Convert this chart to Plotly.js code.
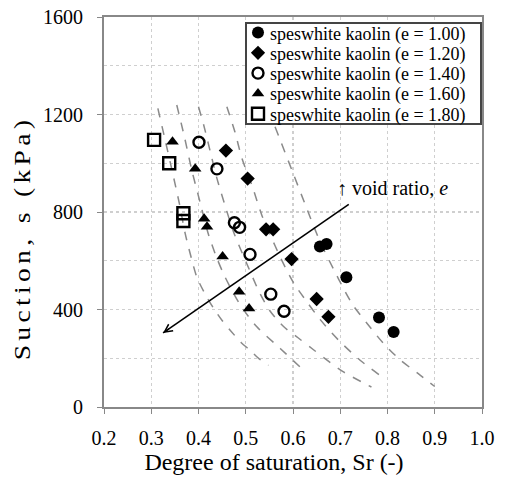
<!DOCTYPE html>
<html>
<head>
<meta charset="utf-8">
<script src="https://cdn.plot.ly/plotly-3.0.1.min.js"></script>
<style>
  html, body { margin: 0; padding: 0; background: #fff; }
  #chart { width: 506px; height: 481px; }
</style>
</head>
<body>
<div id="chart"></div>
<script>
// ---- data ----
const seriesNames = [
  "speswhite kaolin (e = 1.00)",
  "speswhite kaolin (e = 1.20)",
  "speswhite kaolin (e = 1.40)",
  "speswhite kaolin (e = 1.60)",
  "speswhite kaolin (e = 1.80)"
];
const sr100 = [0.657, 0.671, 0.713, 0.782, 0.813];
const s100  = [658, 669, 532, 367, 308];
const sr120 = [0.458, 0.504, 0.543, 0.558, 0.597, 0.650, 0.675];
const s120  = [1052, 937, 729, 729, 607, 443, 370];
const sr140 = [0.401, 0.439, 0.476, 0.487, 0.509, 0.553, 0.581];
const s140  = [1086, 977, 756, 737, 626, 463, 393];
const sr160 = [0.345, 0.393, 0.412, 0.418, 0.451, 0.486, 0.507];
const s160  = [1088, 977, 772, 740, 617, 473, 404];
const sr180 = [0.306, 0.338, 0.368, 0.368];
const s180  = [1096, 1000, 795, 763];

// dashed model curves
const curve1Sr = [0.314,0.330,0.347,0.360,0.372,0.385,0.397,0.415,0.432,0.450,0.467,0.490,0.509,0.530,0.548];
const curve1S  = [1225,1090,945,830,710,610,530,460,405,355,315,265,233,195,171];
const curve2Sr = [0.354,0.370,0.386,0.404,0.420,0.438,0.456,0.488,0.523,0.573,0.615];
const curve2S  = [1239,1110,970,835,715,615,534,420,330,240,164];
const curve3Sr = [0.400,0.411,0.425,0.439,0.456,0.474,0.502,0.530,0.551,0.580,0.610,0.640,0.670,0.706,0.766];
const curve3S  = [1232,1157,1047,938,828,719,589,466,395,330,285,240,195,145,82];
const curve4Sr = [0.460,0.477,0.492,0.513,0.534,0.551,0.573,0.601,0.630,0.657,0.696,0.742,0.784];
const curve4S  = [1232,1129,1020,910,787,710,615,510,430,360,275,192,130];
const curve5Sr = [0.562,0.600,0.630,0.658,0.686,0.710,0.728,0.756,0.791,0.827,0.869,0.900];
const curve5S  = [1150,960,810,675,565,475,415,345,262,193,131,84];

// arrow "void ratio" (tail, head)
const arrowSr = [0.718, 0.325];
const arrowS  = [831, 304];
const arrowLabel = "↑ void ratio, <i>e</i>";
const arrowLabelPos = [0.811, 898];

const xTickVals = [0.2,0.3,0.4,0.5,0.6,0.7,0.8,0.9,1.0];
const yTickVals = [0,400,800,1200,1600];
const xTitle = "Degree of saturation, Sr (-)";
const yTitle = "Suction, s (kPa)";

// ---- build ----
const FONT = "Liberation Serif, Times New Roman, serif";
const curveStyle = {color: "#8a8a8a", width: 1.5, dash: "dash", shape: "spline", smoothing: 0.8};
const curves = [[curve1Sr,curve1S],[curve2Sr,curve2S],[curve3Sr,curve3S],[curve4Sr,curve4S],[curve5Sr,curve5S]];
const traces = curves.map(c => ({
  x: c[0], y: c[1], mode: "lines", line: curveStyle, showlegend: false, hoverinfo: "skip"
}));

const markerDefs = [
  {symbol: "circle", size: 12, color: "#000"},
  {symbol: "diamond", size: 11, color: "#000"},
  {symbol: "circle-open", size: 11, color: "#000", line: {width: 2.4, color: "#000"}},
  {symbol: "triangle-up", size: 11, color: "#000"},
  {symbol: "square-open", size: 12, color: "#000", line: {width: 2.4, color: "#000"}}
];
const pts = [[sr100,s100],[sr120,s120],[sr140,s140],[sr160,s160],[sr180,s180]];
pts.forEach((p, i) => {
  const m = Object.assign({}, markerDefs[i]);
  if (!m.line) m.line = {width: 0};
  traces.push({x: p[0], y: p[1], mode: "markers", name: seriesNames[i], marker: m});
});

// arrow shaft
traces.push({x: arrowSr, y: arrowS, mode: "lines", line: {color: "#000", width: 1.6}, showlegend: false, hoverinfo: "skip"});

const layout = {
  width: 506, height: 481,
  margin: {l: 104, r: 24, t: 17, b: 74},
  paper_bgcolor: "#fff", plot_bgcolor: "#fff",
  font: {family: FONT, color: "#000", size: 20},
  showlegend: true,
  legend: {
    x: 0.373, y: 0.99, xanchor: "left", yanchor: "top",
    bgcolor: "#fff", bordercolor: "#444", borderwidth: 1.5,
    font: {family: FONT, size: 18, color: "#000"},
    itemwidth: 30, tracegroupgap: 0
  },
  xaxis: {
    range: [0.2, 1.0], tickvals: xTickVals, tickformat: ".1f",
    ticks: "outside", ticklen: 5, tickcolor: "#888", ticklabelstandoff: 7,
    showline: true, linecolor: "#888", linewidth: 2, mirror: true,
    showgrid: true, gridcolor: "#cfcfcf", griddash: "dot", gridwidth: 1.2,
    zeroline: false,
    tickfont: {family: FONT, size: 20},
    title: {text: xTitle, font: {family: FONT, size: 24}, standoff: 4}
  },
  yaxis: {
    range: [0, 1600], tickvals: yTickVals,
    ticks: "outside", ticklen: 5, tickcolor: "#888", ticklabelstandoff: 10,
    showline: true, linecolor: "#888", linewidth: 2, mirror: true,
    showgrid: true, gridcolor: "#cfcfcf", griddash: "dot", gridwidth: 1.2,
    minor: {dtick: 200, showgrid: true, gridcolor: "#cfcfcf", griddash: "dot", gridwidth: 1.2, ticks: ""},
    zeroline: false,
    tickfont: {family: FONT, size: 20},
    title: {text: yTitle, font: {family: FONT, size: 23}, standoff: 6}
  },
  annotations: [
    {x: arrowSr[1], y: arrowS[1],
     ax: arrowSr[1] + (arrowSr[0]-arrowSr[1])*0.04, ay: arrowS[1] + (arrowS[0]-arrowS[1])*0.04,
     xref: "x", yref: "y", axref: "x", ayref: "y", text: "", showarrow: true,
     arrowhead: 5, arrowsize: 1.1, arrowwidth: 1.4, arrowcolor: "#000"},
    {x: arrowLabelPos[0], y: arrowLabelPos[1], xref: "x", yref: "y", text: arrowLabel,
     showarrow: false, font: {family: FONT, size: 20, color: "#000"}}
  ]
};

Plotly.newPlot("chart", traces, layout, {displayModeBar: false, staticPlot: true}).then(() => {
  // compact legend like the reference (tighter rows, symbol closer to text)
  const leg = document.querySelector("g.legend");
  if (leg) {
    leg.setAttribute("transform", "translate(245,22)");
    const bg = leg.querySelector("rect.bg");
    if (bg) { bg.setAttribute("width", 235); bg.setAttribute("height", 101); }
    leg.querySelectorAll("g.traces").forEach((g, i) => {
      g.setAttribute("transform", "translate(0," + (10.5 + 20.3 * i) + ")");
      const t = g.querySelector("text.legendtext");
      if (t) t.setAttribute("x", 25);
      const p = g.querySelector("g.legendpoints");
      if (p) p.setAttribute("transform", "translate(-7,0)");
    });
  }
  // axis titles placed as in the reference
  const xt = document.querySelector("text.xtitle");
  if (xt) xt.setAttribute("x", 274);
  const yt = document.querySelector("text.ytitle");
  if (yt) {
    const x = +yt.getAttribute("x");
    const cy = 238;
    yt.style.letterSpacing = "3.6px";
    yt.setAttribute("y", cy);
    yt.setAttribute("transform",
      "rotate(-90," + x + "," + cy + ") translate(" + x + "," + cy + ") scale(1.2,1) translate(" + (-x) + "," + (-cy) + ")");
  }
});
</script>
</body>
</html>
